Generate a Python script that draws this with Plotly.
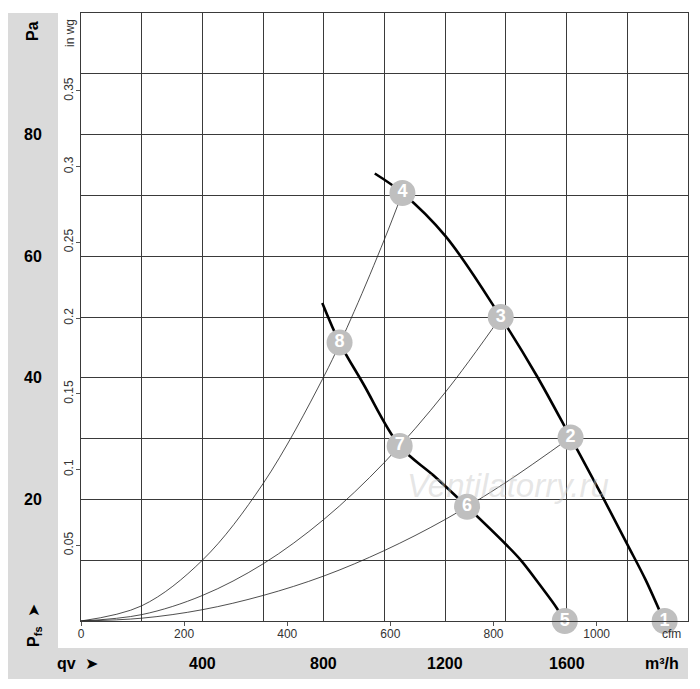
import plotly.graph_objects as go

# fan characteristic curves (m³/h, Pa)
fan_hi_q = [968, 1059, 1201, 1383, 1502, 1613, 1720, 1800, 1860, 1921]
fan_hi_pa = [73.6, 70.4, 63.3, 50.0, 40.3, 30.2, 20.3, 12.6, 6.8, 0.0]
fan_lo_q = [795, 852, 929, 1050, 1160, 1272, 1402, 1451, 1511, 1568, 1592]
fan_lo_pa = [52.3, 45.8, 39.1, 28.8, 24.0, 18.8, 12.5, 9.9, 6.0, 2.1, 0.0]

# system curves (thin lines from origin)
sys_a_q = [0, 200, 400, 600, 800, 900, 1000, 1059]
sys_a_pa = [0, 2.5, 10.0, 22.6, 40.2, 50.9, 62.8, 70.4]
sys_b_q = [0, 200, 400, 600, 800, 1000, 1200, 1383]
sys_b_pa = [0, 1.05, 4.2, 9.4, 16.7, 26.1, 37.6, 50.0]
sys_c_q = [0, 200, 400, 600, 800, 1000, 1200, 1400, 1613]
sys_c_pa = [0, 0.46, 1.86, 4.2, 7.4, 11.6, 16.7, 22.8, 30.2]

# numbered operating points
pt_labels = ["1", "2", "3", "4", "5", "6", "7", "8"]
pt_q = [1923, 1613, 1383, 1059, 1594, 1272, 1050, 852]
pt_pa = [0, 30.2, 50.0, 70.4, 0, 18.8, 28.8, 45.8]

# axis labels
m3h_labels = [400, 800, 1200, 1600]
pa_labels = [20, 40, 60, 80]
cfm_ticks = [0, 200, 400, 600, 800, 1000]
inwg_ticks = [0.05, 0.1, 0.15, 0.2, 0.25, 0.3, 0.35]

Q_MAX = 2000
PA_MAX = 100
CFM_PER_M3H = 1 / 1.699
INWG_PER_PA = 1 / 249.09

FONT = "Liberation Sans, Arial, sans-serif"
GRID = "#3a3a3a"
BAND = "#dadada"

# reference pixel -> paper helpers (plot area 81..688 x 13..621)
def px(x):
    return (x - 81) / 607

def py(y):
    return (621 - y) / 608


fig = go.Figure()

for q, pa in [(sys_a_q, sys_a_pa), (sys_b_q, sys_b_pa), (sys_c_q, sys_c_pa)]:
    fig.add_trace(go.Scatter(x=q, y=pa, mode="lines", line=dict(color="#222", width=0.8, shape="spline"),
                             hoverinfo="skip", showlegend=False))

for q, pa in [(fan_hi_q, fan_hi_pa), (fan_lo_q, fan_lo_pa)]:
    fig.add_trace(go.Scatter(x=q, y=pa, mode="lines", line=dict(color="black", width=2.6, shape="spline"),
                             hoverinfo="skip", showlegend=False))

fig.add_trace(go.Scatter(
    x=pt_q, y=pt_pa, mode="markers+text", text=["<b>%s</b>" % t for t in pt_labels],
    textposition="middle center", textfont=dict(family=FONT, size=18, color="white"),
    marker=dict(size=26, color="#bfbfbf", line=dict(width=0)),
    cliponaxis=False, showlegend=False, hoverinfo="skip"))

# dummy trace so the secondary (cfm / in wg) axes are drawn
fig.add_trace(go.Scatter(x=[0], y=[0], xaxis="x2", yaxis="y2", mode="markers",
                         marker=dict(opacity=0), showlegend=False, hoverinfo="skip"))

# page body has an 8px margin, so the figure is shifted by 8px and made smaller
fig.update_layout(
    width=692, height=681,
    margin=dict(l=73, r=12, t=5, b=68),
    paper_bgcolor="white", plot_bgcolor="white",
    font=dict(family=FONT, color="#333"),
    xaxis=dict(range=[0, Q_MAX], dtick=200, tick0=0, showgrid=True, gridcolor=GRID, gridwidth=1,
               showticklabels=False, ticks="", zeroline=False, showline=True, mirror=True,
               linecolor=GRID, linewidth=1, fixedrange=True),
    yaxis=dict(range=[0, PA_MAX], dtick=10, tick0=0, showgrid=True, gridcolor=GRID, gridwidth=1,
               showticklabels=False, ticks="", zeroline=False, showline=True, mirror=True,
               linecolor=GRID, linewidth=1, fixedrange=True),
    xaxis2=dict(range=[0, Q_MAX * CFM_PER_M3H], overlaying="x", anchor="y", side="bottom",
                tickvals=cfm_ticks, ticks="outside", ticklen=4, tickcolor="#555",
                ticklabelstandoff=-2,
                showgrid=False, zeroline=False, showline=False,
                tickfont=dict(family=FONT, size=12, color="#333")),
    yaxis2=dict(range=[0, PA_MAX * INWG_PER_PA], overlaying="y", anchor="x", side="left",
                tickvals=inwg_ticks, ticktext=[str(v) for v in inwg_ticks], tickangle=-90,
                ticks="outside", ticklen=4, tickcolor="#555", ticklabelstandoff=-2,
                showgrid=False, zeroline=False, showline=False,
                tickfont=dict(family=FONT, size=12, color="#333")),
    shapes=[
        dict(type="rect", xref="paper", yref="paper", x0=px(8), x1=px(58), y0=py(679), y1=py(13),
             fillcolor=BAND, line=dict(width=0), layer="below"),
        dict(type="rect", xref="paper", yref="paper", x0=px(8), x1=px(688), y0=py(679), y1=py(648),
             fillcolor=BAND, line=dict(width=0), layer="below"),
    ],
)

bold = dict(family=FONT, size=16, color="black")
ann = []
for v in pa_labels:
    ann.append(dict(x=px(33), y=v, yref="y", text="<b>%d</b>" % v, font=bold))
for v in m3h_labels:
    ann.append(dict(x=v, xref="x", y=py(663), text="<b>%d</b>" % v, font=bold))
ann += [
    dict(x=px(33), y=py(31), text="<b>Pa</b>", textangle=-90, font=bold),
    dict(x=px(34), y=py(626), text="<b>P<sub>fs</sub></b>  ➤", textangle=-90, font=bold),
    dict(x=px(77), y=py(663), text="<b>qv</b>  ➤", font=bold),
    dict(x=px(662), y=py(663), text="<b>m³/h</b>", font=bold),
    dict(x=px(70), y=py(33), text="in wg", textangle=-90, font=dict(family=FONT, size=12, color="#333")),
    dict(x=px(671), y=py(634), text="cfm", font=dict(family=FONT, size=12, color="#333")),
    dict(x=px(508), y=py(485), text="<i>Ventilatorry.ru</i>",
         font=dict(family=FONT, size=33, color="rgba(200,200,200,0.45)")),
]
for a in ann:
    a.setdefault("xref", "paper")
    a.setdefault("yref", "paper")
    a.setdefault("showarrow", False)
    a.setdefault("xanchor", "center")
    a.setdefault("yanchor", "middle")
fig.update_layout(annotations=ann)

fig.write_html("out.html")
